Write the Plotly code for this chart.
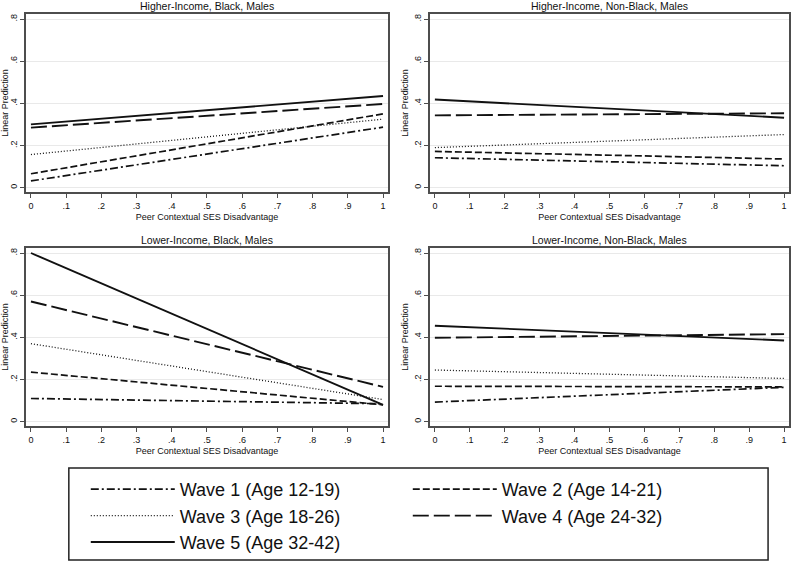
import plotly.graph_objects as go

# -------------------------------
# Data (linear predictions, at x = 0 and x = 1)
# -------------------------------
x_vals = [0, 1]

wave_names = [
    "Wave 1 (Age 12-19)",
    "Wave 2 (Age 14-21)",
    "Wave 3 (Age 18-26)",
    "Wave 4 (Age 24-32)",
    "Wave 5 (Age 32-42)",
]

panel_titles = [
    "Higher-Income, Black, Males",
    "Higher-Income, Non-Black, Males",
    "Lower-Income, Black, Males",
    "Lower-Income, Non-Black, Males",
]

# one list per wave, per panel
hi_black = [[0.032, 0.287], [0.066, 0.350], [0.157, 0.325], [0.285, 0.397], [0.300, 0.435]]
hi_nonblack = [[0.142, 0.104], [0.172, 0.136], [0.190, 0.252], [0.343, 0.353], [0.418, 0.332]]
lo_black = [[0.110, 0.085], [0.235, 0.080], [0.370, 0.105], [0.570, 0.165], [0.800, 0.080]]
lo_nonblack = [[0.093, 0.163], [0.168, 0.165], [0.245, 0.205], [0.398, 0.415], [0.455, 0.385]]

x_tickvals = [0, 0.1, 0.2, 0.3, 0.4, 0.5, 0.6, 0.7, 0.8, 0.9, 1]
x_ticktext = ["0", ".1", ".2", ".3", ".4", ".5", ".6", ".7", ".8", ".9", "1"]
y_tickvals = [0, 0.2, 0.4, 0.6, 0.8]
y_ticktext = ["0", ".2", ".4", ".6", ".8"]

x_title = "Peer Contextual SES Disadvantage"
y_title = "Linear Prediction"

# -------------------------------
# Styles
# -------------------------------
W, H = 795, 568
FONT = "Liberation Sans, Arial, sans-serif"
INK = "#111111"
FRAME = "#4d4d4d"

line_styles = [
    dict(dash="8px,3px,2px,3px", width=1.7),  # wave 1 dash-dot
    dict(dash="7px,3px", width=1.7),          # wave 2 short dash
    dict(dash="1px,2px", width=1.3),          # wave 3 dotted
    dict(dash="16px,5px", width=1.9),         # wave 4 long dash
    dict(dash="solid", width=1.9),            # wave 5 solid
]


def px_x(p):
    return p / W


def px_y(p):
    return 1 - p / H


# panel boxes in pixels: (left, right, top, bottom)
boxes = [
    (24, 387, 14, 192),
    (429, 789, 14, 192),
    (24, 387, 248, 426),
    (429, 789, 248, 426),
]
panels = [hi_black, hi_nonblack, lo_black, lo_nonblack]

fig = go.Figure()

for i, (panel, box) in enumerate(zip(panels, boxes)):
    n = "" if i == 0 else str(i + 1)
    for w, (vals, name, st) in enumerate(zip(panel, wave_names, line_styles)):
        fig.add_trace(go.Scatter(
            x=x_vals, y=vals, mode="lines", name=name,
            line=dict(color=INK, **st),
            xaxis="x" + n, yaxis="y" + n,
            showlegend=(i == 0), legendrank=w,
        ))

    left, right, top, bottom = box
    axis_common = dict(
        showline=True, mirror=True, linecolor=FRAME, linewidth=1.5,
        ticks="outside", ticklen=4, tickwidth=1, tickcolor=FRAME,
        zeroline=False, tickfont=dict(family=FONT, size=9, color=INK),
    )
    fig.layout["xaxis" + n] = dict(
        domain=[px_x(left), px_x(right)], anchor="y" + n,
        range=[-0.0142, 1.0142],
        tickvals=x_tickvals, ticktext=x_ticktext,
        showgrid=False,
        title=dict(text=x_title, font=dict(family=FONT, size=9, color=INK), standoff=4),
        **axis_common,
    )
    fig.layout["yaxis" + n] = dict(
        domain=[px_y(bottom), px_y(top)], anchor="x" + n,
        range=[-0.0205, 0.8237],
        tickvals=y_tickvals, ticktext=y_ticktext, tickangle=-90,
        showgrid=True, gridcolor="#e9e9e9", gridwidth=1,
        title=dict(text=y_title, font=dict(family=FONT, size=9, color=INK), standoff=2),
        **axis_common,
    )
    fig.add_annotation(
        text=panel_titles[i], xref="paper", yref="paper",
        x=px_x((left + right) / 2), y=px_y(top - 8),
        xanchor="center", yanchor="middle",
        showarrow=False, font=dict(family=FONT, size=10.5, color=INK),
    )

# frame around the legend (the legend itself has no padding control)
fig.add_shape(
    type="rect", xref="paper", yref="paper",
    x0=px_x(67), x1=px_x(768), y0=px_y(560), y1=px_y(468),
    line=dict(color="#222222", width=1.5), fillcolor="rgba(0,0,0,0)",
)

fig.update_layout(
    width=W, height=H,
    margin=dict(l=0, r=0, t=0, b=0),
    paper_bgcolor="white", plot_bgcolor="white",
    legend=dict(
        orientation="h", x=px_x(84), y=px_y(471), xanchor="left", yanchor="top",
        entrywidth=223, entrywidthmode="pixels",
        bgcolor="rgba(0,0,0,0)", borderwidth=0,
        font=dict(family=FONT, size=18, color=INK),
        tracegroupgap=0, itemwidth=84,
    ),
)

fig.write_html("out.html", config={"displayModeBar": False},
               post_script="document.body.style.margin='0';")
